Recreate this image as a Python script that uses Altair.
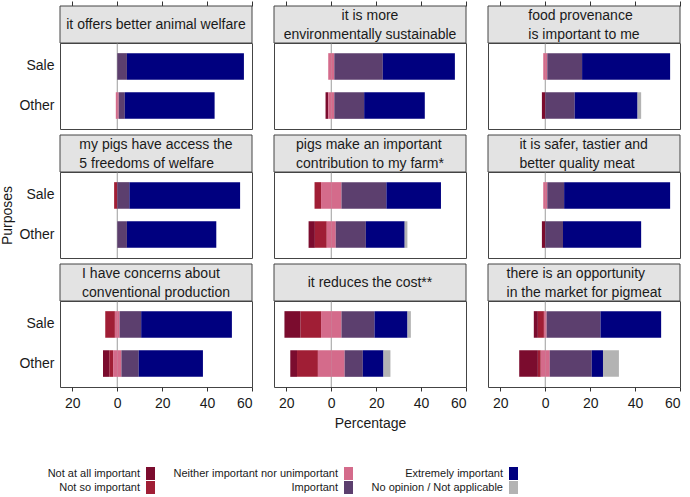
import altair as alt
import pandas as pd

# Facet labels, one entry per strip (lines separated by "\n")
statements = [
    "it offers better animal welfare",
    "it is more\nenvironmentally sustainable",
    "food provenance\nis important to me",
    "my pigs have access the\n5 freedoms of welfare",
    "pigs make an important\ncontribution to my farm*",
    "it is safer, tastier and\nbetter quality meat",
    "I have concerns about\nconventional production",
    "it reduces the cost**",
    "there is an opportunity\nin the market for pigmeat",
]
strip_justify = ["center", "center", "left", "left", "left", "left", "left", "center", "left"]
purposes = ["Sale", "Other"]
responses = [
    "Not at all important",
    "Not so important",
    "Neither important nor unimportant",
    "Important",
    "Extremely important",
    "No opinion / Not applicable",
]
colors = ["#7B0C2E", "#A01E35", "#D46B8B", "#5C3F6E", "#00007F", "#B3B3B3"]

# Percentages, ordered statement by statement as (Sale, Other)
not_at_all = [0, 0, 0, 1.2, 0, 1.5, 0, 0, 0, 2.8, 0, 1.5, 0, 2.8, 7.1, 3.0, 1.8, 8.3]
not_so = [0, 0, 0, 0, 0, 0, 1.4, 0, 2.9, 5.3, 0, 0, 4.3, 1.7, 9.2, 9.3, 2.7, 1.3]
neither = [0, 1.3, 2.7, 2.7, 1.8, 0, 0, 0, 9.1, 4.0, 1.8, 0, 2.1, 3.7, 9.1, 11.9, 1.2, 4.0]
important = [4.3, 2.7, 21.6, 13.3, 15.5, 13.1, 5.4, 4.3, 20.0, 13.4, 7.5, 7.9, 9.6, 7.7, 14.7, 8.1, 24.0, 18.7]
extremely = [52.1, 40.0, 32.1, 27.0, 39.2, 28.0, 49.3, 39.8, 24.3, 17.3, 47.2, 34.8, 40.4, 28.6, 14.7, 9.2, 27.0, 5.0]
no_opinion = [0, 0, 0, 0, 0, 1.6, 0, 0, 0, 1.2, 0, 0, 0, 0, 1.5, 3.1, 0, 7.1]

tick_values = [-20, 0, 20, 40, 60]

# Diverging stack: half of the neutral share on each side of zero
rows = []
for k in range(len(extremely)):
    panel, purpose = divmod(k, 2)
    base = dict(panel=panel, purpose=purposes[purpose])
    half = neither[k] / 2
    left = -half
    for name, v in ((responses[1], not_so[k]), (responses[0], not_at_all[k])):
        if v > 0:
            rows.append(dict(base, response=name, start=left - v, end=left))
            left -= v
    if half > 0:
        rows.append(dict(base, response=responses[2], start=-half, end=0))
        rows.append(dict(base, response=responses[2], start=0, end=half))
    right = half
    for name, v in ((responses[3], important[k]), (responses[4], extremely[k]), (responses[5], no_opinion[k])):
        if v > 0:
            rows.append(dict(base, response=name, start=right, end=right + v))
            right += v
df = pd.DataFrame(rows)

W, H, STRIP, LINE = 192, 86, 37, 19
FONT = "Liberation Sans"
FONT_SIZE = 14
TEXT = "#1a1a1a"
x_scale = alt.Scale(domain=[-25.5, 60], nice=False, zero=False)
y_scale = alt.Scale(paddingInner=0.32, paddingOuter=0.26)

# Liberation Sans advance widths (1/1000 em), used to left-justify strip lines
ADV = {" ": 278, "a": 556, "b": 556, "c": 500, "d": 556, "e": 556, "f": 278, "g": 556,
       "h": 556, "i": 222, "j": 222, "k": 500, "l": 222, "m": 833, "n": 556, "o": 556,
       "p": 556, "q": 556, "r": 333, "s": 500, "t": 278, "u": 556, "v": 500, "w": 722,
       "x": 500, "y": 500, "z": 500, ",": 278, "*": 389, "I": 278}


def text_width(s):
    return sum(ADV.get(ch, 556) for ch in s) * FONT_SIZE / 1000


# legend laid out in three columns, two entries each, labels left of the keys
legend_order = [responses[0], responses[2], responses[4], responses[1], responses[3], responses[5]]
legend_colors = [colors[responses.index(r)] for r in legend_order]
legend = alt.Legend(
    title=None, orient="none", legendX=84, legendY=424, columns=3,
    direction="horizontal",
    symbolType="M-0.69,-1H0.69V1H-0.69Z", symbolSize=169, symbolStrokeWidth=0,
    symbolOpacity=1, labelAlign="right", labelOffset={"expr": "-17"}, labelLimit=300,
    labelFont=FONT, labelFontSize=11, labelColor=TEXT,
    rowPadding=1, columnPadding=18,
)
color = alt.Color(
    "response:N",
    scale=alt.Scale(domain=legend_order, range=legend_colors),
    legend=legend,
)


def strip_lines(i):
    lines = statements[i].split("\n")
    n = len(lines)
    block = max(text_width(s) for s in lines)
    marks = []
    for j, s in enumerate(lines):
        y = -STRIP / 2 + (j - (n - 1) / 2) * LINE + 0.5
        if strip_justify[i] == "left":
            x, align = W / 2 - block / 2, "left"
        else:
            x, align = W / 2, "center"
        marks.append(
            alt.Chart(pd.DataFrame({"label": [s]})).mark_text(
                font=FONT, fontSize=FONT_SIZE, color=TEXT, align=align, baseline="middle",
            ).encode(x=alt.value(x), y=alt.value(y), text="label:N")
        )
    return marks


def panel(i):
    r, c = divmod(i, 3)
    if r == 0:
        x_axis = alt.Axis(orient="top", offset=STRIP, values=tick_values, labels=False,
                          domain=False, grid=False, tickSize=5, title=None)
    elif r == 2:
        x_axis = alt.Axis(orient="bottom", values=tick_values, labelExpr="'' + abs(datum.value)",
                          domain=False, grid=False, tickSize=4, labelPadding=5,
                          title="Percentage" if c == 1 else None, titlePadding=6)
    else:
        x_axis = None
    if c == 0:
        y_axis = alt.Axis(title="Purposes" if r == 1 else None, ticks=False, domain=False,
                          labelPadding=6, titlePadding=4)
    else:
        y_axis = None

    one = pd.DataFrame({"label": [statements[i]]})
    zero = alt.Chart(one).mark_rule(color="#9c9c9c", strokeWidth=1).encode(
        x=alt.XDatum(0, scale=x_scale, axis=x_axis)
    )
    bars = alt.Chart(df[df.panel == i]).mark_bar().encode(
        x=alt.X("start:Q", scale=x_scale, axis=x_axis),
        x2="end:Q",
        y=alt.Y("purpose:N", sort=purposes, scale=y_scale, axis=y_axis),
        color=color,
    )
    strip = alt.Chart(one).mark_rect(fill="#E3E3E3", stroke="#444444", strokeWidth=1).encode(
        x=alt.value(0), x2=alt.value(W), y=alt.value(-STRIP), y2=alt.value(0)
    )
    return alt.layer(zero, bars, strip, *strip_lines(i)).properties(width=W, height=H)


chart = alt.concat(
    *[panel(i) for i in range(9)], columns=3,
    spacing={"row": STRIP + 6, "column": 22}, bounds="flush",
).properties(
    padding={"left": 0, "top": 0, "right": 8, "bottom": 4}
).configure_view(stroke="#444444", strokeWidth=1).configure_axis(
    labelFont=FONT, labelFontSize=14, labelColor=TEXT,
    titleFont=FONT, titleFontSize=14, titleFontWeight="normal", titleColor=TEXT,
    tickColor="#333333",
)

chart.save("out.html", embed_options={"renderer": "svg", "actions": False})
